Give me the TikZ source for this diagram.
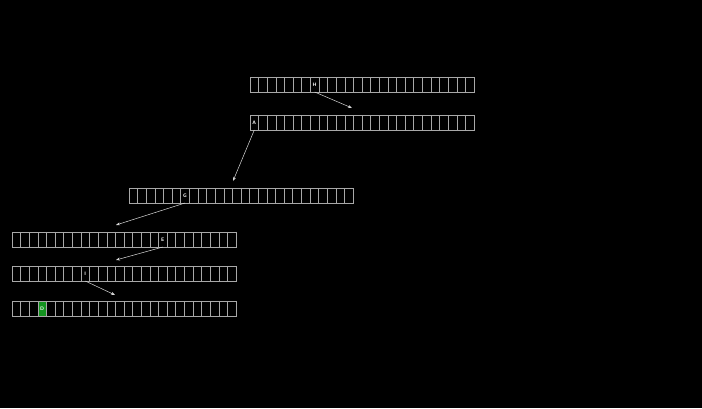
\documentclass[tikz,border=0pt]{standalone}
\usetikzlibrary{arrows.meta}
\definecolor{cellline}{HTML}{A8A8A8}
\definecolor{hit}{HTML}{13931F}
\tikzset{
  cell/.style={draw=cellline, line width=0.6pt, minimum width=8.62pt, minimum height=15pt, inner sep=0pt, outer sep=0pt, anchor=north west, text=white, font=\fontsize{5}{5.5}\selectfont\sffamily\bfseries},
  found/.style={cell, fill=hit},
  ptr/.style={draw=white!85!black, line width=0.5pt, -{Stealth[length=4pt,width=3pt]}}
}
\begin{document}
\begin{tikzpicture}[x=1pt,y=-1pt]
\fill[black] (0,0) rectangle (702,408);
\useasboundingbox (0,0) rectangle (702,408);
% rows: name / x / y / letter cell / letter
\foreach \r/\x/\y/\k/\l in {a/250/77/7/H, b/250/115/0/A, c/129/188/6/G, d/12/232/17/E, e/12/266/8/I}{
  \foreach \i in {0,...,25}{
    \ifnum\i=\k
      \node[cell] (\r\i) at ({\x+\i*8.62},\y) {\l};
    \else
      \node[cell] (\r\i) at ({\x+\i*8.62},\y) {};
    \fi
  }
}
\foreach \i in {0,...,25}{
  \ifnum\i=3
    \node[found] (f\i) at ({12+\i*8.62},301) {D};
  \else
    \node[cell] (f\i) at ({12+\i*8.62},301) {};
  \fi
}
\coordinate (t1) at (352,108);
\coordinate (t2) at (233,181);
\coordinate (t3) at (116,225);
\coordinate (t4) at (116,260);
\coordinate (t5) at (115,295);
\draw[ptr] (a7.south) -- (t1);
\draw[ptr] (b0.south) -- (t2);
\draw[ptr] (c6.south) -- (t3);
\draw[ptr] (d17.south) -- (t4);
\draw[ptr] (e8.south) -- (t5);
\end{tikzpicture}
\end{document}
